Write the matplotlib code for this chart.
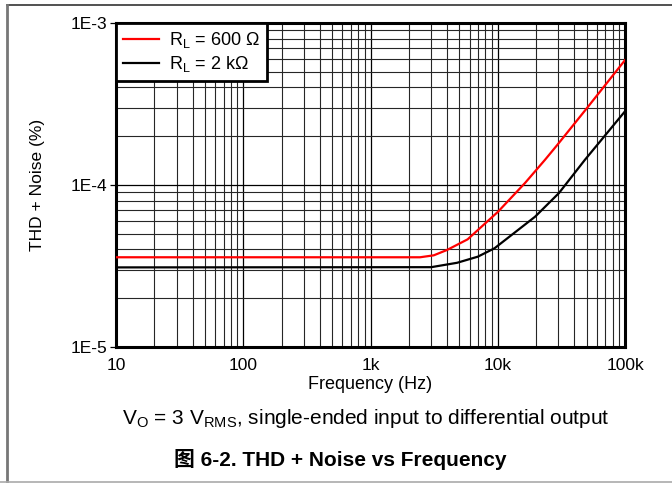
import matplotlib
matplotlib.use("Agg")
import matplotlib.pyplot as plt
from matplotlib.lines import Line2D
from matplotlib.ticker import LogLocator, FixedLocator, FixedFormatter, NullFormatter

plt.rcParams['font.family'] = ['Liberation Sans', 'Noto Sans CJK SC', 'DejaVu Sans']
plt.rcParams['mathtext.fontset'] = 'custom'
plt.rcParams['mathtext.rm'] = 'Liberation Sans'
plt.rcParams['mathtext.it'] = 'Liberation Sans'
plt.rcParams['mathtext.default'] = 'regular'

# Data
freq_600 = [10, 2450, 3140, 3990, 5800, 10050, 16400, 23500, 29250, 50000, 100000]
thdn_600 = [3.58e-5, 3.58e-5, 3.68e-5, 3.97e-5, 4.62e-5, 6.84e-5, 1.03e-4, 1.43e-4, 1.76e-4, 2.97e-4, 5.9e-4]
freq_2k = [10, 3000, 4790, 6970, 9440, 19640, 30270, 48400, 100000]
thdn_2k = [3.10e-5, 3.11e-5, 3.31e-5, 3.61e-5, 4.07e-5, 6.37e-5, 8.92e-5, 1.43e-4, 2.85e-4]

x_ticks = [10, 100, 1000, 10000, 100000]
x_labels = ["10", "100", "1k", "10k", "100k"]
y_ticks = [1e-5, 1e-4, 1e-3]
y_labels = ["1E-5", "1E-4", "1E-3"]

legend_labels = [r"R$_L$ = 600 Ω", r"R$_L$ = 2 kΩ"]
x_label = "Frequency (Hz)"
y_label = "THD + Noise (%)"
note = r"V$_O$ = 3 V$_{RMS}$, single-ended input to differential output"
title = "图 6-2. THD + Noise vs Frequency"

fig = plt.figure(figsize=(6.72, 4.83), dpi=100)
ax = fig.add_axes([116/672, 1-347/483, (625-116)/672, (347-23)/483])

ax.plot(freq_600, thdn_600, color='#ff0000', lw=1.6, label=legend_labels[0], zorder=3)
ax.plot(freq_2k, thdn_2k, color='black', lw=1.6, label=legend_labels[1], zorder=3)

ax.set_xscale('log')
ax.set_yscale('log')
ax.set_xlim(10, 100000)
ax.set_ylim(1e-5, 1e-3)

ax.xaxis.set_major_locator(FixedLocator(x_ticks))
ax.xaxis.set_major_formatter(FixedFormatter(x_labels))
ax.yaxis.set_major_locator(FixedLocator(y_ticks))
ax.yaxis.set_major_formatter(FixedFormatter(y_labels))
ax.xaxis.set_minor_locator(LogLocator(base=10, subs=range(2, 10), numticks=20))
ax.yaxis.set_minor_locator(LogLocator(base=10, subs=range(2, 10), numticks=20))
ax.xaxis.set_minor_formatter(NullFormatter())
ax.yaxis.set_minor_formatter(NullFormatter())

ax.grid(True, which='major', color='black', lw=0.9)
ax.grid(True, which='minor', color='#262626', lw=0.8)
ax.tick_params(axis='x', which='both', length=0, labelsize=12.5, pad=8)
ax.tick_params(axis='y', which='major', length=4, width=0.9, labelsize=12.5, pad=2)
ax.tick_params(axis='y', which='minor', length=0)

for s in ax.spines.values():
    s.set_linewidth(2.2)
    s.set_color('black')

ax.set_xlabel(x_label, fontsize=13, labelpad=2)
ax.set_ylabel(y_label, fontsize=12.5, labelpad=19)

leg = ax.legend(loc='upper left', borderaxespad=0, fontsize=13, handlelength=2.0,
                handletextpad=0.55, borderpad=0.4, labelspacing=0.2, fancybox=False,
                framealpha=1, edgecolor='black')
leg.get_frame().set_linewidth(2.0)
leg.set_zorder(5)

fig.text(366/672, 1-419/483, note, ha='center', va='center', fontsize=15)
fig.text(340/672, 1-460/483, title, ha='center', va='center', fontsize=15, fontweight='bold')

# outer cell borders
fig.add_artist(Line2D([7/672, 1], [1-5/483, 1-5/483], color='#333333', lw=1.2, transform=fig.transFigure))
fig.add_artist(Line2D([7/672, 7/672], [0, 1-5/483], color='#777777', lw=2.0, transform=fig.transFigure))
fig.add_artist(Line2D([0, 1], [1-482/483, 1-482/483], color='#aaaaaa', lw=1.2, transform=fig.transFigure))

fig.savefig("out.png", dpi=100)
